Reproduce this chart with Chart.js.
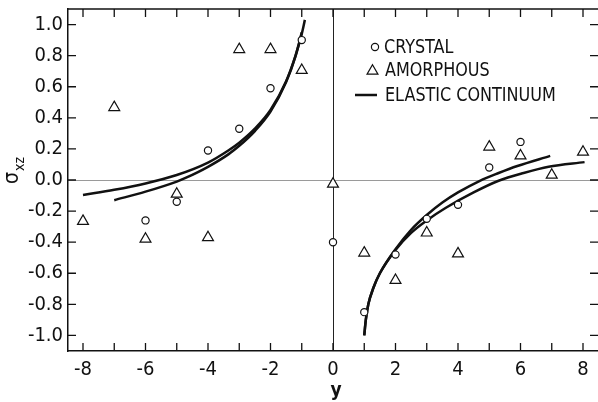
<!DOCTYPE html>
<html>
<head>
<meta charset="UTF-8">
<title>sigma xz</title>
<script src="https://cdn.jsdelivr.net/npm/chart.js"></script>
<style>
  body { margin: 0; background: #fff; overflow: hidden; }
  #wrap { width: 598px; height: 402px; }
  canvas { display: block; }
</style>
</head>
<body>
<div id="wrap"><canvas id="chart" width="598" height="402"></canvas></div>
<script>
// tick values
const xTickValues = [-8, -7, -6, -5, -4, -3, -2, -1, 0, 1, 2, 3, 4, 5, 6, 7, 8];
const yTickValues = [-1.0, -0.8, -0.6, -0.4, -0.2, 0.0, 0.2, 0.4, 0.6, 0.8, 1.0];

// crystal (circles)
const crystalX = [-6, -5, -4, -3, -2, -1, 0, 1, 2, 3, 4, 5, 6];
const crystalY = [-0.26, -0.14, 0.19, 0.33, 0.59, 0.90, -0.40, -0.85, -0.48, -0.25, -0.16, 0.08, 0.245];

// amorphous (triangles)
const amorphX = [-8, -7, -6, -5, -4, -3, -2, -1, 0, 1, 2, 3, 4, 5, 6, 7, 8];
const amorphY = [-0.265, 0.467, -0.38, -0.09, -0.37, 0.84, 0.84, 0.706, -0.026, -0.469, -0.645, -0.34, -0.474, 0.213, 0.156, 0.032, 0.18];

// elastic continuum curves
const curveAX = [-8, -7, -6, -5, -4, -3.35, -3, -2.5, -2, -1.5, -1.2, -1.0, -0.9];
const curveAY = [-0.096, -0.063, -0.022, 0.032, 0.112, 0.19, 0.24, 0.33, 0.45, 0.635, 0.80, 0.94, 1.03];
const curveBX = [-7, -6, -5, -4.7, -4, -3.35, -3, -2.5, -2, -1.5, -1.2, -1.0];
const curveBY = [-0.13, -0.075, -0.01, 0.015, 0.085, 0.165, 0.22, 0.315, 0.44, 0.63, 0.795, 0.95];
const curveCX = [1.0, 1.05, 1.13, 1.3, 1.5, 2.0, 2.5, 3.0, 3.5, 4.0, 4.7, 5.3, 5.9, 6.95];
const curveCY = [-1.0, -0.9, -0.80, -0.69, -0.60, -0.445, -0.32, -0.225, -0.145, -0.08, -0.005, 0.045, 0.09, 0.155];
const curveDX = [1.0, 1.05, 1.13, 1.3, 1.5, 2.0, 2.5, 3.0, 3.6, 4.5, 5.3, 6.1, 6.9, 8.05];
const curveDY = [-1.0, -0.9, -0.80, -0.69, -0.60, -0.45, -0.34, -0.26, -0.18, -0.08, -0.005, 0.045, 0.085, 0.115];

const FONT = "'DejaVu Sans Condensed', 'DejaVu Sans', sans-serif";
const INK = '#111';

function pts(xs, ys) {
  return xs.map((x, i) => ({ x: x, y: ys[i] }));
}

function curve(label, xs, ys) {
  return {
    label: label,
    data: pts(xs, ys),
    showLine: true,
    borderColor: INK,
    borderWidth: 2.5,
    pointRadius: 0,
    cubicInterpolationMode: 'monotone',
    fill: false
  };
}

function drawTriangle(ctx, x, y, r) {
  ctx.beginPath();
  ctx.moveTo(x, y - r);
  ctx.lineTo(x + 0.866 * r, y + 0.5 * r);
  ctx.lineTo(x - 0.866 * r, y + 0.5 * r);
  ctx.closePath();
  ctx.fillStyle = '#fff';
  ctx.fill();
  ctx.stroke();
}

function narrowText(ctx, txt, x, y, sx) {
  ctx.save();
  ctx.translate(x, y);
  ctx.scale(sx, 1);
  ctx.fillText(txt, 0, 0);
  ctx.restore();
}

// frame, inward ticks, legend and axis titles
const framePlugin = {
  id: 'frame',
  afterDraw(chart) {
    const ctx = chart.ctx;
    const a = chart.chartArea;
    const xs = chart.scales.x;
    const ys = chart.scales.y;
    ctx.save();
    ctx.strokeStyle = INK;
    ctx.lineWidth = 1.5;
    ctx.beginPath();
    ctx.moveTo(a.left, a.top);
    ctx.lineTo(a.right, a.top);
    ctx.stroke();

    ctx.lineWidth = 1.3;
    const tl = 8;
    ctx.beginPath();
    xs.ticks.forEach(t => {
      const px = xs.getPixelForValue(t.value);
      ctx.moveTo(px, a.bottom); ctx.lineTo(px, a.bottom - tl);
      ctx.moveTo(px, a.top); ctx.lineTo(px, a.top + tl);
    });
    ys.ticks.forEach(t => {
      const py = ys.getPixelForValue(t.value);
      ctx.moveTo(a.left, py); ctx.lineTo(a.left + tl, py);
      ctx.moveTo(a.right, py); ctx.lineTo(a.right - tl, py);
    });
    ctx.stroke();

    // legend
    const ds = chart.data.datasets;
    ctx.lineWidth = 1.2;
    ctx.beginPath();
    ctx.arc(375, 47, 3.6, 0, Math.PI * 2);
    ctx.fillStyle = '#fff';
    ctx.fill();
    ctx.stroke();
    drawTriangle(ctx, 372.5, 71, 6.3);
    ctx.lineWidth = 2.5;
    ctx.beginPath();
    ctx.moveTo(355, 95); ctx.lineTo(377, 95);
    ctx.stroke();
    ctx.fillStyle = INK;
    ctx.font = '20px ' + FONT;
    ctx.textBaseline = 'middle';
    ctx.textAlign = 'left';
    narrowText(ctx, ds[0].label, 384, 48, 0.89);
    narrowText(ctx, ds[1].label, 385, 71, 0.89);
    narrowText(ctx, ds[2].label, 385, 96, 0.89);

    // x title
    ctx.font = 'bold 19px ' + FONT;
    ctx.textAlign = 'center';
    ctx.textBaseline = 'alphabetic';
    ctx.fillText('y', 336, 396);

    // y title, rotated, with subscript
    ctx.translate(18, 184);
    ctx.rotate(-Math.PI / 2);
    ctx.textAlign = 'left';
    ctx.font = '21px ' + FONT;
    ctx.fillText('σ', 0, 0);
    const w = ctx.measureText('σ').width;
    ctx.font = '14px ' + FONT;
    ctx.fillText('xz', w + 1, 6);
    ctx.restore();
  }
};

new Chart(document.getElementById('chart'), {
  type: 'scatter',
  data: {
    datasets: [
      {
        label: 'CRYSTAL',
        data: pts(crystalX, crystalY),
        pointStyle: 'circle',
        pointRadius: 3.6,
        borderColor: INK,
        backgroundColor: '#fff',
        borderWidth: 1.2
      },
      {
        label: 'AMORPHOUS',
        data: pts(amorphX, amorphY),
        pointStyle: 'triangle',
        pointRadius: 6.3,
        borderColor: INK,
        backgroundColor: '#fff',
        borderWidth: 1.2
      },
      curve('ELASTIC CONTINUUM', curveAX, curveAY),
      curve('', curveBX, curveBY),
      curve('', curveCX, curveCY),
      curve('', curveDX, curveDY)
    ]
  },
  options: {
    responsive: false,
    devicePixelRatio: 1,
    animation: false,
    layout: { autoPadding: false, padding: { top: 9, left: 0, right: 0, bottom: 0 } },
    plugins: {
      legend: { display: false },
      tooltip: { enabled: false }
    },
    scales: {
      x: {
        type: 'linear',
        min: -8.48,
        max: 8.48,
        afterBuildTicks: s => { s.ticks = xTickValues.map(v => ({ value: v })); },
        afterFit: s => { s.height = 51; s.paddingLeft = 0; s.paddingRight = 0; },
        border: { display: true, color: INK, width: 1.5 },
        grid: {
          drawTicks: false,
          lineWidth: 1,
          color: c => (c.tick && c.tick.value === 0 ? '#222' : 'rgba(0,0,0,0)')
        },
        ticks: {
          autoSkip: false,
          maxRotation: 0,
          padding: 7,
          color: INK,
          font: { family: FONT, size: 20 },
          callback: v => (v % 2 === 0 ? String(v) : '')
        }
      },
      y: {
        type: 'linear',
        min: -1.1,
        max: 1.1,
        afterBuildTicks: s => { s.ticks = yTickValues.map(v => ({ value: v })); },
        afterFit: s => { s.width = 68; s.paddingTop = 0; s.paddingBottom = 0; },
        border: { display: true, color: INK, width: 1.5 },
        grid: {
          drawTicks: false,
          lineWidth: 1,
          color: c => (c.tick && Math.abs(c.tick.value) < 1e-9 ? '#9a9a9a' : 'rgba(0,0,0,0)')
        },
        ticks: {
          padding: 5,
          color: INK,
          font: { family: FONT, size: 20 },
          callback: v => v.toFixed(1)
        }
      }
    }
  },
  plugins: [framePlugin]
});
</script>
</body>
</html>
